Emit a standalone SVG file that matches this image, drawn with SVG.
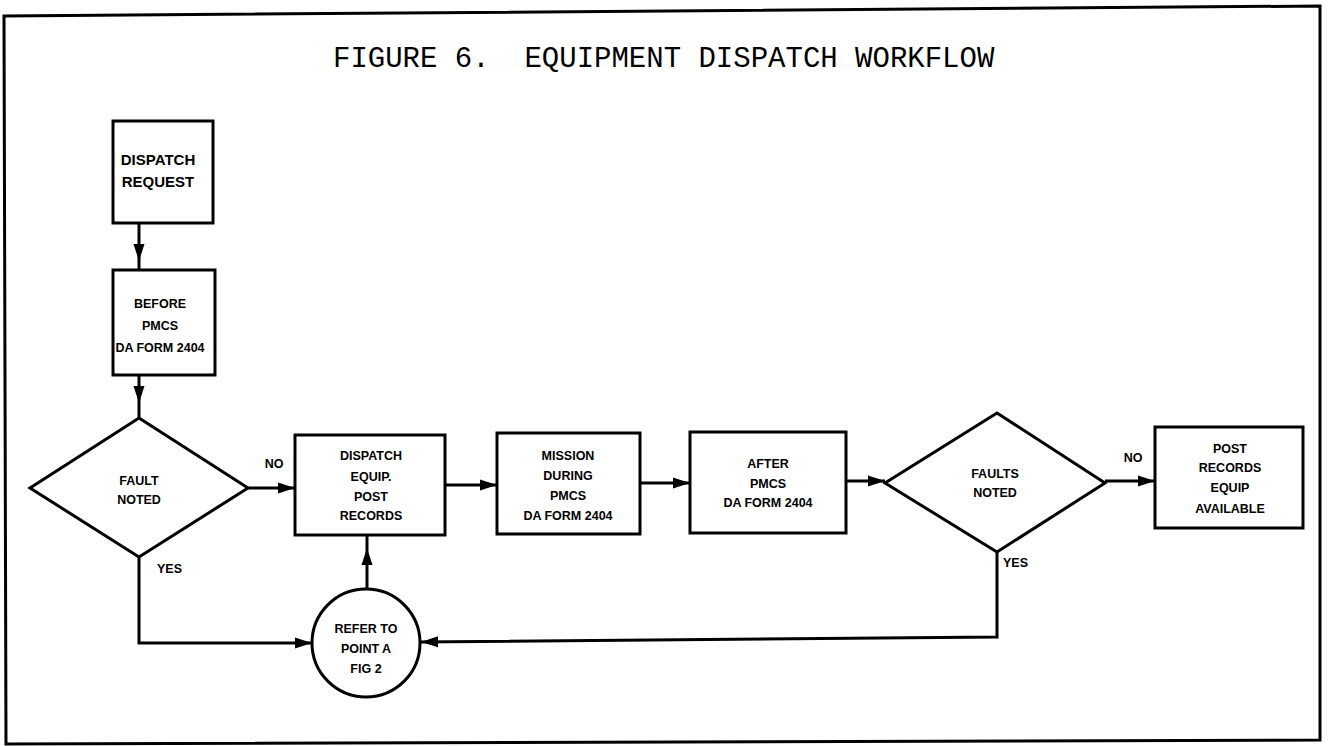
<svg xmlns="http://www.w3.org/2000/svg" width="1328" height="746" viewBox="0 0 1328 746">
<style>
.frame{fill:none;stroke:#000;stroke-width:3}
.shape{fill:#fff;stroke:#000;stroke-width:3}
.conn{fill:none;stroke:#000;stroke-width:3}
.lbl{font-family:"Liberation Sans",Arial,sans-serif;font-weight:bold;font-size:12.5px;fill:#000;text-anchor:middle}
.big{font-size:15px}
.side{text-anchor:start}
.title{font-family:"Liberation Mono","Courier New",monospace;font-size:29px;fill:#000}
</style>
<defs>
<marker id="ah" viewBox="0 0 17 13" refX="17" refY="6.5" markerWidth="17" markerHeight="13" markerUnits="userSpaceOnUse" orient="auto">
<path d="M0,1 L17,6.5 L0,12 z" fill="#000"/>
</marker>
</defs>
<rect width="1328" height="746" fill="#fff"/>
<polygon class="frame" points="4,16 1320,6 1320,740 6,744"/>
<text class="title" x="333" y="67" xml:space="preserve">FIGURE 6.  EQUIPMENT DISPATCH WORKFLOW</text>

<g id="connectors">
<path class="conn" d="M139,223 L139,261 L139,270" marker-mid="url(#ah)"/>
<path class="conn" d="M139,375 L139,403 L139,418" marker-mid="url(#ah)"/>
<path class="conn" d="M248,488 L295,488" marker-end="url(#ah)"/>
<path class="conn" d="M139,557 L139,643 L312,643" marker-end="url(#ah)"/>
<path class="conn" d="M367,589 L367,548 L367,535" marker-mid="url(#ah)"/>
<path class="conn" d="M445,485 L497,485" marker-end="url(#ah)"/>
<path class="conn" d="M640,483 L690,483" marker-end="url(#ah)"/>
<path class="conn" d="M846,481 L885,481" marker-end="url(#ah)"/>
<path class="conn" d="M1105,481 L1155,481" marker-end="url(#ah)"/>
<path class="conn" d="M997,552 L997,637 L421,642" marker-end="url(#ah)"/>
<text class="lbl" x="274" y="468">NO</text>
<text class="lbl side" x="157" y="573">YES</text>
<text class="lbl" x="1133" y="462">NO</text>
<text class="lbl side" x="1003" y="567">YES</text>
</g>

<g id="dispatch-request">
<rect class="shape" x="113" y="121" width="100" height="102"/>
<text class="lbl big" x="158" y="165">DISPATCH</text>
<text class="lbl big" x="158" y="187">REQUEST</text>
</g>
<g id="before-pmcs">
<rect class="shape" x="113" y="270" width="102" height="105"/>
<text class="lbl" x="160" y="308">BEFORE</text>
<text class="lbl" x="160" y="330">PMCS</text>
<text class="lbl" x="160" y="352">DA FORM 2404</text>
</g>
<g id="fault-noted">
<polygon class="shape" points="139,418 248,488 139,557 30,488"/>
<text class="lbl" x="139" y="485">FAULT</text>
<text class="lbl" x="139" y="504">NOTED</text>
</g>
<g id="dispatch-equip">
<rect class="shape" x="295" y="435" width="150" height="100"/>
<text class="lbl" x="371" y="460">DISPATCH</text>
<text class="lbl" x="371" y="481">EQUIP.</text>
<text class="lbl" x="371" y="501">POST</text>
<text class="lbl" x="371" y="520">RECORDS</text>
</g>
<g id="mission">
<rect class="shape" x="497" y="433" width="143" height="101"/>
<text class="lbl" x="568" y="460">MISSION</text>
<text class="lbl" x="568" y="480">DURING</text>
<text class="lbl" x="568" y="500">PMCS</text>
<text class="lbl" x="568" y="520">DA FORM 2404</text>
</g>
<g id="after-pmcs">
<rect class="shape" x="690" y="432" width="156" height="101"/>
<text class="lbl" x="768" y="468">AFTER</text>
<text class="lbl" x="768" y="488">PMCS</text>
<text class="lbl" x="768" y="507">DA FORM 2404</text>
</g>
<g id="faults-noted">
<polygon class="shape" points="997,413 1105,483 997,552 885,483"/>
<text class="lbl" x="995" y="478">FAULTS</text>
<text class="lbl" x="995" y="497">NOTED</text>
</g>
<g id="post-records">
<rect class="shape" x="1155" y="427" width="148" height="101"/>
<text class="lbl" x="1230" y="453">POST</text>
<text class="lbl" x="1230" y="472">RECORDS</text>
<text class="lbl" x="1230" y="492">EQUIP</text>
<text class="lbl" x="1230" y="513">AVAILABLE</text>
</g>
<g id="refer-point-a">
<circle class="shape" cx="366" cy="643" r="54"/>
<text class="lbl" x="366" y="633">REFER TO</text>
<text class="lbl" x="366" y="653">POINT A</text>
<text class="lbl" x="366" y="673">FIG 2</text>
</g>
</svg>
